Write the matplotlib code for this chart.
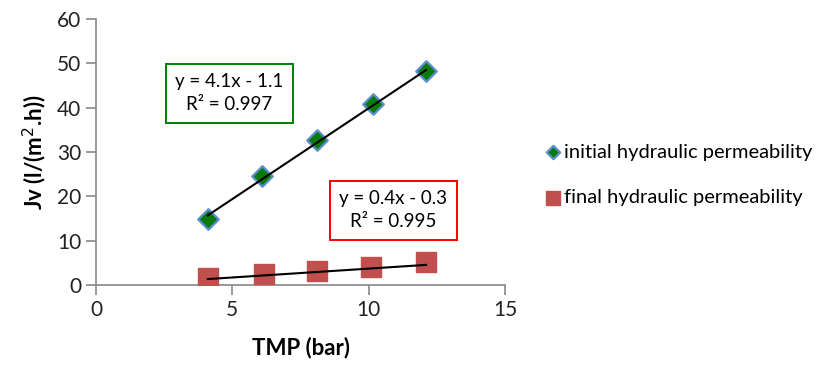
import numpy as np
import matplotlib
matplotlib.use('Agg')
import matplotlib.pyplot as plt

plt.rcParams['font.family'] = ['Lato', 'DejaVu Sans']

# transmembrane pressure (bar) and flux (l/(m2.h))
tmp_initial = [4.1, 6.1, 8.1, 10.15, 12.1]
jv_initial = [14.9, 24.6, 32.7, 40.8, 48.2]
tmp_final = [4.1, 6.15, 8.1, 10.1, 12.1]
jv_final = [1.5, 2.5, 3.1, 4.0, 5.2]

# linear trendline coefficients (slope, intercept) and R^2
fit_initial = (4.1, -1.1, 0.997)
fit_final = (0.4, -0.3, 0.995)

fig = plt.figure(figsize=(8.2, 3.76), dpi=100)
ax = fig.add_axes([0.117, 0.242, 0.499, 0.707])

ax.scatter(tmp_initial, jv_initial, marker='D', s=110, color='#0a7a0a',
           edgecolors='#5b8fd0', linewidths=1.6, zorder=3,
           label='initial hydraulic permeability')
ax.scatter(tmp_final, jv_final, marker='s', s=210, color='#c0504d',
           zorder=3, label='final hydraulic permeability')

# trendlines
for xs, (m, b, r2) in [(tmp_initial, fit_initial), (tmp_final, fit_final)]:
    xl = np.array([xs[0], xs[-1]])
    ax.plot(xl, m * xl + b, color='black', lw=1.5, zorder=4)

ax.text(10.9, 16.9, 'y = %.1fx - %.1f\nR² = %.3f' % (fit_final[0], -fit_final[1], fit_final[2]),
        fontsize=13.5, ha='center', va='center', linespacing=1.45,
        bbox=dict(boxstyle='square,pad=0.5', fc='white', ec='red', lw=1.4))
ax.text(4.9, 43.3, 'y = %.1fx - %.1f\nR² = %.3f' % (fit_initial[0], -fit_initial[1], fit_initial[2]),
        fontsize=13.5, ha='center', va='center', linespacing=1.45,
        bbox=dict(boxstyle='square,pad=0.5', fc='white', ec='green', lw=1.4))

ax.set_xlim(0, 15)
ax.set_ylim(0, 60)
ax.set_xticks([0, 5, 10, 15])
ax.set_yticks(range(0, 61, 10))
ax.tick_params(labelsize=15, color='#888888', length=7, width=1.2, labelcolor='#222222')
for s in ['top', 'right']:
    ax.spines[s].set_visible(False)
for s in ['left', 'bottom']:
    ax.spines[s].set_color('#888888')
    ax.spines[s].set_linewidth(1.2)

ax.set_xlabel('TMP (bar)', fontsize=16, fontweight='bold', labelpad=12)
ax.set_ylabel('Jv (l/(m$^{2}$.h))', fontsize=16, fontweight='bold', labelpad=6)

fig.legend(loc='center left', bbox_to_anchor=(0.64, 0.535), frameon=False,
           fontsize=14.5, handletextpad=0.05, labelspacing=1.4, markerscale=0.65,
           handlelength=1.0)

fig.savefig('out.png', dpi=100)
